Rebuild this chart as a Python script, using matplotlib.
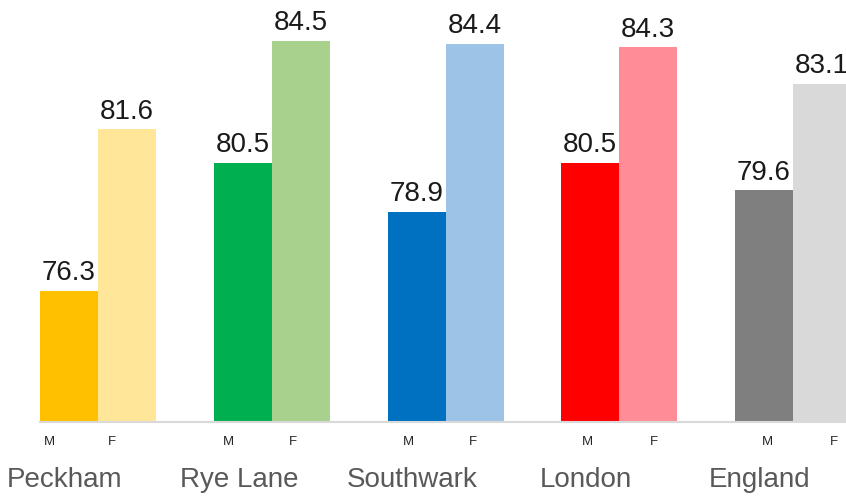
import matplotlib
matplotlib.use("Agg")
import matplotlib.pyplot as plt
import numpy as np

plt.rcParams['font.family'] = ['Liberation Sans', 'DejaVu Sans']

categories = ["Peckham", "Rye Lane", "Southwark", "London", "England"]
male = [76.3, 80.5, 78.9, 80.5, 79.6]
female = [81.6, 84.5, 84.4, 84.3, 83.1]
male_colors = ["#FFC000", "#00B050", "#0070C0", "#FF0000", "#7F7F7F"]
female_colors = ["#FFE699", "#A9D18E", "#9DC3E6", "#FF8C96", "#D9D9D9"]
sex_labels = ["M", "F"]

W, H = 846, 497
fig = plt.figure(figsize=(W / 100, H / 100), dpi=100)
ax = fig.add_axes([40 / W, 1 - 422 / H, (846 - 40) / W, 422 / H])

x = np.arange(len(categories))
bw = 0.334
ymin = 72.0
ppu = 30.48
ax.bar(x - bw / 2, np.array(male) - ymin, bw, bottom=ymin, color=male_colors, linewidth=0)
ax.bar(x + bw / 2, np.array(female) - ymin, bw, bottom=ymin, color=female_colors, linewidth=0)

ax.set_xlim(-bw, -bw + (846 - 40) / 173.75)
ax.set_ylim(ymin, ymin + 422 / ppu)

for i in range(len(categories)):
    ax.text(x[i] - bw / 2, male[i] + 0.15, f"{male[i]:.1f}", ha="center", va="bottom",
            fontsize=20, color="#1a1a1a")
    ax.text(x[i] + bw / 2, female[i] + 0.15, f"{female[i]:.1f}", ha="center", va="bottom",
            fontsize=20, color="#1a1a1a")

for s in ax.spines.values():
    s.set_visible(False)
ax.axhline(ymin, color="#D9D9D9", linewidth=1.5, clip_on=False)
ax.set_xticks([])
ax.set_yticks([])

# sub labels M/F and category names
for i in range(len(categories)):
    ax.text(-0.282 + 1.033 * i, ymin - 20 / ppu, sex_labels[0], ha="center", va="center",
            fontsize=9.5, color="#262626", clip_on=False)
    ax.text(0.08 + 1.039 * i, ymin - 20 / ppu, sex_labels[1], ha="center", va="center",
            fontsize=9.5, color="#262626", clip_on=False)
    ax.text(x[i] - 0.19, ymin - 58 / ppu, categories[i], ha="center", va="center",
            fontsize=20, color="#595959", clip_on=False)

fig.savefig("out.png", dpi=100)
